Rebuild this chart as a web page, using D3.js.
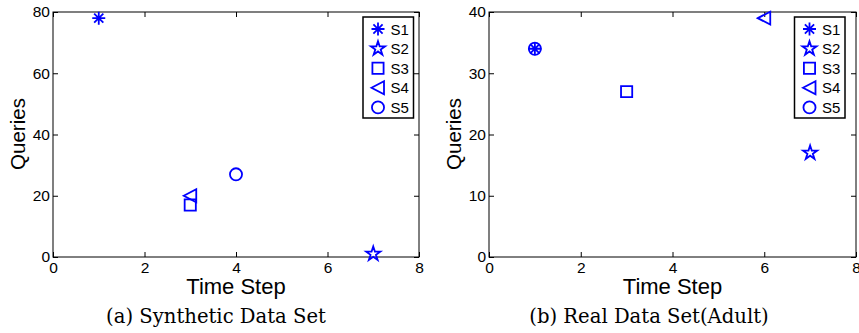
<!DOCTYPE html>
<html>
<head>
<meta charset="utf-8">
<script src="https://cdn.jsdelivr.net/npm/d3@7"></script>
<style>
  body { margin: 0; background: #fff; }
  svg text { font-family: "Liberation Sans", Arial, sans-serif; }
</style>
</head>
<body>
<svg id="chart" width="859" height="333"></svg>
<script>
const seriesNames = ["S1", "S2", "S3", "S4", "S5"];
const xTicks = [0, 2, 4, 6, 8];

// panel (a) synthetic
const synthX = [1, 7, 3, 3, 4];
const synthY = [78, 1, 17, 20, 27];
const synthYTicks = [0, 20, 40, 60, 80];

// panel (b) adult
const adultX = [1, 7, 3, 6, 1];
const adultY = [34, 17, 27, 39, 34];
const adultYTicks = [0, 10, 20, 30, 40];

const svg = d3.select("#chart");
const blue = "#0000ff";

// marker paths centred on 0,0
function markerPath(name) {
    if (name === "S1") {
        const r = 6.5, d = r * Math.SQRT1_2;
        return `M${-r},0L${r},0M0,${-r}L0,${r}M${-d},${-d}L${d},${d}M${-d},${d}L${d},${-d}`;
    }
    if (name === "S2") return d3.symbol(d3.symbolStar, 62)();
    if (name === "S3") return d3.symbol(d3.symbolSquare, 125)();
    if (name === "S4") return "M-6.5,0L6,-6.5L6,6.5Z";
    return d3.symbol(d3.symbolCircle, 115)();
}

function drawPanel(cfg) {
    const x = d3.scaleLinear().domain([0, 8]).range([cfg.left, cfg.right]);
    const y = d3.scaleLinear().domain(cfg.yDomain).range([257, 12]);
    const g = svg.append("g");

    // inward ticks all round
    const tl = 5;
    g.append("g").attr("transform", "translate(0,257)")
        .call(d3.axisBottom(x).tickValues(xTicks).tickSize(-tl).tickPadding(5).tickSizeOuter(0));
    g.append("g").attr("transform", "translate(0,12)")
        .call(d3.axisTop(x).tickValues(xTicks).tickSize(-tl).tickFormat("").tickSizeOuter(0));
    g.append("g").attr("transform", `translate(${cfg.left},0)`)
        .call(d3.axisLeft(y).tickValues(cfg.yTicks).tickSize(-tl).tickPadding(3).tickSizeOuter(0));
    g.append("g").attr("transform", `translate(${cfg.right},0)`)
        .call(d3.axisRight(y).tickValues(cfg.yTicks).tickSize(-tl).tickFormat("").tickSizeOuter(0));
    g.selectAll(".domain").remove();
    g.selectAll(".tick line").attr("stroke", "#000");
    g.selectAll(".tick text").attr("fill", "#000").style("font-size", "15.5px")
        .style("font-family", "Liberation Sans, Arial, sans-serif");

    g.append("rect")
        .attr("x", cfg.left).attr("y", 12)
        .attr("width", cfg.right - cfg.left).attr("height", 245)
        .attr("fill", "none").attr("stroke", "#000").attr("stroke-width", 1);

    // points
    const pts = seriesNames.map((s, i) => ({ s, x: cfg.xs[i], y: cfg.ys[i] }));
    g.selectAll("path.pt").data(pts).enter().append("path")
        .attr("class", "pt")
        .attr("transform", d => `translate(${x(d.x)},${y(d.y)})`)
        .attr("d", d => markerPath(d.s))
        .attr("fill", "none").attr("stroke", blue).attr("stroke-width", 1.8);

    // axis titles
    g.append("text")
        .attr("x", (cfg.left + cfg.right) / 2).attr("y", 293.5)
        .attr("text-anchor", "middle").style("font-size", "22px")
        .text("Time Step");
    g.append("text")
        .attr("transform", `translate(${cfg.left - 28},134) rotate(-90)`)
        .attr("text-anchor", "middle").style("font-size", "20.5px")
        .text("Queries");

    // legend
    const lg = g.append("g");
    lg.append("rect")
        .attr("x", cfg.legX).attr("y", 17)
        .attr("width", 50.5).attr("height", 101)
        .attr("fill", "#fff").attr("stroke", "#000").attr("stroke-width", 1.5);
    const rows = lg.selectAll("g.row").data(seriesNames).enter().append("g")
        .attr("transform", (d, i) => `translate(${cfg.legX + 15},${29 + i * 19.6})`);
    rows.append("path").attr("d", d => markerPath(d))
        .attr("fill", "none").attr("stroke", blue).attr("stroke-width", 1.8);
    rows.append("text").attr("x", 12.5).attr("y", 5.5)
        .style("font-size", "15px").text(d => d);

    // caption
    svg.append("text")
        .attr("x", cfg.capX).attr("y", 323)
        .attr("text-anchor", "middle")
        .style("font-family", "'DejaVu Serif', serif")
        .style("font-size", "19.6px")
        .text(cfg.caption);
}

drawPanel({
    left: 53, right: 419, yDomain: [0, 80], yTicks: synthYTicks,
    xs: synthX, ys: synthY, legX: 363, capX: 216,
    caption: "(a) Synthetic Data Set"
});
drawPanel({
    left: 489, right: 856, yDomain: [0, 40], yTicks: adultYTicks,
    xs: adultX, ys: adultY, legX: 794.5, capX: 649,
    caption: "(b) Real Data Set(Adult)"
});
</script>
</body>
</html>
